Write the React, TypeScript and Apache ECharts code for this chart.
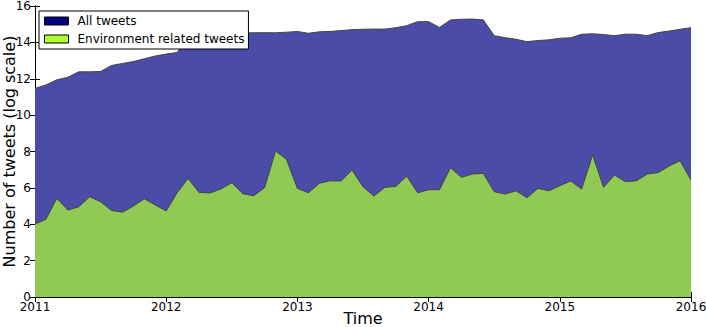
import React, { useEffect, useRef } from "react";
import * as echarts from "echarts";

const yearLabels = ["2011", "2012", "2013", "2014", "2015", "2016"];

const allTweets = [
  11.47, 11.66, 11.94, 12.08, 12.38, 12.38, 12.4, 12.73, 12.84, 12.95, 13.1, 13.25,
  13.36, 13.44, 14.35, 14.45, 14.48, 14.5, 14.5, 14.52, 14.53, 14.53, 14.53, 14.56,
  14.6, 14.5, 14.58, 14.6, 14.65, 14.7, 14.72, 14.73, 14.73, 14.81, 14.92, 15.14,
  15.14, 14.82, 15.23, 15.27, 15.28, 15.24, 14.37, 14.26, 14.17, 14.04, 14.1, 14.14,
  14.23, 14.25, 14.45, 14.47, 14.43, 14.37, 14.45, 14.45, 14.37, 14.54, 14.62, 14.72,
  14.81,
];

const envTweets = [
  4.01, 4.27, 5.43, 4.78, 4.96, 5.51, 5.24, 4.76, 4.66, 5.0, 5.4, 5.06,
  4.73, 5.73, 6.52, 5.75, 5.72, 5.94, 6.28, 5.68, 5.57, 6.01, 8.03, 7.57,
  5.97, 5.73, 6.25, 6.39, 6.38, 6.98, 6.06, 5.55, 6.03, 6.08, 6.65, 5.73,
  5.9, 5.9, 7.11, 6.58, 6.76, 6.8, 5.79, 5.66, 5.84, 5.46, 5.97, 5.84,
  6.12, 6.38, 5.94, 7.81, 6.03, 6.71, 6.34, 6.39, 6.76, 6.84, 7.2, 7.49,
  6.43,
];

const FONT = "DejaVu Sans";

export default function App() {
  const ref = useRef<HTMLDivElement>(null);
  useEffect(() => {
    if (!ref.current) return;
    const chart = echarts.init(ref.current, undefined, { renderer: "svg" });
    const toPairs = (arr: number[]) => arr.map((v, i) => [i, v]);
    const yearFmt = (v: number) => yearLabels[Math.round(v / 12)] ?? "";
    chart.setOption({
      animation: false,
      textStyle: { fontFamily: FONT },
      grid: { left: 35, right: 15, top: 6, bottom: 30, containLabel: false, outerBoundsMode: "none" },
      legend: {
        left: 39,
        top: 11,
        orient: "vertical",
        icon: "rect",
        itemWidth: 24,
        itemHeight: 8,
        itemGap: 4,
        padding: [3, 4, 3, 5],
        backgroundColor: "#fff",
        borderColor: "#000",
        borderWidth: 1,
        borderRadius: 0,
        textStyle: { fontFamily: FONT, fontSize: 12, lineHeight: 14, color: "#000", padding: [0, 0, 0, 4] },
        data: [
          { name: "All tweets", itemStyle: { color: "#000080", borderColor: "#000", borderWidth: 1 } },
          { name: "Environment related tweets", itemStyle: { color: "#adff2f", borderColor: "#000", borderWidth: 1 } },
        ],
      },
      xAxis: [
        {
          type: "value",
          min: 0,
          max: 60,
          interval: 12,
          name: "Time",
          nameLocation: "middle",
          nameGap: 13,
          nameMoveOverlap: false,
          nameTextStyle: { fontFamily: FONT, fontSize: 16, color: "#000" },
          axisLine: { lineStyle: { color: "#000", width: 1 } },
          axisTick: { inside: true, length: 5, lineStyle: { color: "#000" } },
          axisLabel: { formatter: yearFmt, fontFamily: FONT, fontSize: 12, color: "#000", margin: 4 },
          splitLine: { show: false },
        },
        {
          type: "value",
          position: "top",
          min: 0,
          max: 60,
          interval: 12,
          axisLine: { lineStyle: { color: "#000", width: 1 } },
          axisTick: { inside: true, length: 5, lineStyle: { color: "#000" } },
          axisLabel: { show: false },
          splitLine: { show: false },
        },
      ],
      yAxis: [
        {
          type: "value",
          min: 0,
          max: 16,
          interval: 2,
          name: "Number of tweets (log scale)",
          nameLocation: "middle",
          nameGap: 18,
          nameMoveOverlap: false,
          nameTextStyle: { fontFamily: FONT, fontSize: 16, color: "#000" },
          axisLine: { show: true, lineStyle: { color: "#000", width: 1 } },
          axisTick: { show: true, inside: true, length: 5, lineStyle: { color: "#000" } },
          axisLabel: { fontFamily: FONT, fontSize: 12, color: "#000", margin: 4 },
          splitLine: { show: false },
        },
        {
          type: "value",
          position: "right",
          min: 0,
          max: 16,
          interval: 2,
          axisLine: { show: true, lineStyle: { color: "#000", width: 1 } },
          axisTick: { show: true, inside: true, length: 5, lineStyle: { color: "#000" } },
          axisLabel: { show: false },
          splitLine: { show: false },
        },
      ],
      series: [
        {
          name: "All tweets",
          type: "line",
          data: toPairs(allTweets),
          showSymbol: false,
          symbol: "none",
          itemStyle: { color: "#000080" },
          lineStyle: { color: "#444", width: 1 },
          areaStyle: { color: "#4b4ba8", opacity: 1 },
          z: 1,
        },
        {
          name: "Environment related tweets",
          type: "line",
          data: toPairs(envTweets),
          showSymbol: false,
          symbol: "none",
          itemStyle: { color: "#adff2f" },
          lineStyle: { color: "#444", width: 1 },
          areaStyle: { color: "#90c954", opacity: 1 },
          z: 2,
        },
      ],
    });
    return () => chart.dispose();
  }, []);
  return <div ref={ref} style={{ width: 706, height: 327, position: "absolute", left: 0, top: 0 }} />;
}
